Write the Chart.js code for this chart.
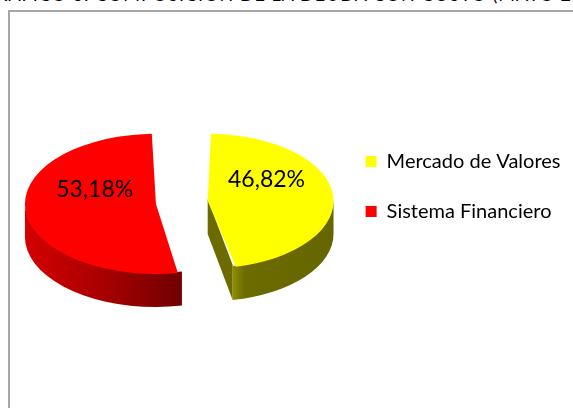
<!DOCTYPE html>
<html>
<head>
<meta charset="utf-8">
<script src="https://cdn.jsdelivr.net/npm/chart.js@4"></script>
<style>
  html, body { margin: 0; padding: 0; background: #fff; }
  body { width: 573px; height: 408px; overflow: hidden; position: relative; }
  #title { position: absolute; top: -17px; left: -18px; white-space: nowrap; font: 18px Lato, sans-serif; color: #000; letter-spacing: 1px; }
  #frame { position: absolute; left: 8px; top: 10px; width: 700px; height: 500px; border: 2px solid #a6a6a6; }
  #wrap { position: absolute; left: 0; top: 0; width: 573px; height: 408px; }
</style>
</head>
<body>
<div id="title">GRÁFICO 6: COMPOSICIÓN DE LA DEUDA CON COSTO (MAYO 2011)</div>
<div id="frame"></div>
<div id="wrap"><canvas id="deudaChart"></canvas></div>
<script>
// COMPOSICION DE LA DEUDA CON COSTO (PIE 3D)
const categories = ['Mercado de Valores', 'Sistema Financiero'];
const shares = [46.82, 53.18];
const topColors = ['#ffff00', '#ff0000'];
const sideColors = [['#8f8f00', '#6b6b00', '#666600'], ['#d40000', '#a80000', '#700000']];

const tilt = 0.535;  // vertical squash of the top face
const depth = 33;    // thickness of the pie
const drop = 16;     // pie sits a bit lower than the legend

// geometry of an arc as it is really drawn by ArcElement (offset / 4, radius grows)
function arcGeom(arc, cy) {
  const off = (arc.options.offset || 0) / 4;
  const circ = arc.endAngle - arc.startAngle;
  const fix = 1 - Math.sin(Math.min(Math.PI, circ));
  const mid = (arc.startAngle + arc.endAngle) / 2;
  const R = arc.outerRadius + off * fix;
  return {
    ox: arc.x + Math.cos(mid) * off,
    oy: cy + drop + Math.sin(mid) * off * tilt,
    R: R, ry: R * tilt, mid: mid
  };
}

function cutFace(ctx, g, a, color) {
  const rx = g.ox + g.R * Math.cos(a), ry = g.oy + g.ry * Math.sin(a);
  ctx.beginPath();
  ctx.moveTo(g.ox, g.oy - 2);
  ctx.lineTo(rx, ry - 2);
  ctx.lineTo(rx, ry + depth);
  ctx.lineTo(g.ox, g.oy + depth);
  ctx.closePath();
  ctx.fillStyle = color;
  ctx.fill();
}

const pie3d = {
  id: 'pie3d',
  beforeDatasetsDraw(chart) {
    const ctx = chart.ctx;
    const arcs = chart.getDatasetMeta(0).data;
    const cy = arcs[0].y;
    arcs.forEach((arc, i) => {
      const g = arcGeom(arc, cy);
      const s = arc.startAngle, e = arc.endAngle;
      const cols = sideColors[i];
      // cut faces that look towards us
      if (Math.cos(e) > 0.01) cutFace(ctx, g, e, cols[1]);
      if (-Math.cos(s) > 0.01) cutFace(ctx, g, s, cols[1]);
      // outer wall on the front half
      const a1 = Math.max(s, 0), a2 = Math.min(e, Math.PI);
      if (a1 < a2) {
        const xl = g.ox + g.R * Math.cos(a2), xr = g.ox + g.R * Math.cos(a1);
        const grad = ctx.createLinearGradient(Math.min(xl, xr), 0, Math.max(xl, xr), 0);
        if (i === 0) {
          grad.addColorStop(0, cols[0]);
          grad.addColorStop(0.12, cols[1]);
          grad.addColorStop(1, cols[2]);
        } else {
          grad.addColorStop(0, cols[0]);
          grad.addColorStop(0.5, cols[1]);
          grad.addColorStop(1, cols[2]);
        }
        ctx.beginPath();
        ctx.ellipse(g.ox, g.oy - 1, g.R, g.ry, 0, a1, a2);
        ctx.ellipse(g.ox, g.oy + depth, g.R, g.ry, 0, a2, a1, true);
        ctx.closePath();
        ctx.fillStyle = grad;
        ctx.fill();
      }
    });
    // top faces: let Chart.js draw them on a squashed context
    ctx.save();
    ctx.translate(0, cy + drop);
    ctx.scale(1, tilt);
    ctx.translate(0, -cy);
  },
  afterDatasetsDraw(chart) {
    const ctx = chart.ctx;
    ctx.restore();
    const arcs = chart.getDatasetMeta(0).data;
    const cy = arcs[0].y;
    ctx.save();
    ctx.font = '23px Lato, sans-serif';
    ctx.fillStyle = '#000';
    ctx.textAlign = 'center';
    ctx.textBaseline = 'middle';
    arcs.forEach((arc, i) => {
      const g = arcGeom(arc, cy);
      const lx = g.ox + Math.cos(g.mid) * g.R * 0.47;
      const ly = g.oy + Math.sin(g.mid) * g.ry * 0.47 - 18;
      ctx.fillText(shares[i].toFixed(2).replace('.', ',') + '%', lx, ly);
    });
    ctx.restore();
  }
};

new Chart(document.getElementById('deudaChart'), {
  type: 'pie',
  data: {
    labels: categories,
    datasets: [{
      data: shares,
      backgroundColor: topColors,
      borderWidth: 0,
      offset: 104,
      radius: 105,
      clip: false
    }]
  },
  options: {
    responsive: true,
    maintainAspectRatio: false,
    animation: false,
    layout: { padding: { left: 28, right: 2.5, top: 20, bottom: 55 } },
    plugins: {
      tooltip: { enabled: false },
      legend: {
        position: 'right',
        labels: {
          boxWidth: 11,
          boxHeight: 11,
          padding: 30,
          color: '#000',
          font: { family: 'Lato', size: 20 }
        }
      }
    }
  },
  plugins: [pie3d]
});
</script>
</body>
</html>
